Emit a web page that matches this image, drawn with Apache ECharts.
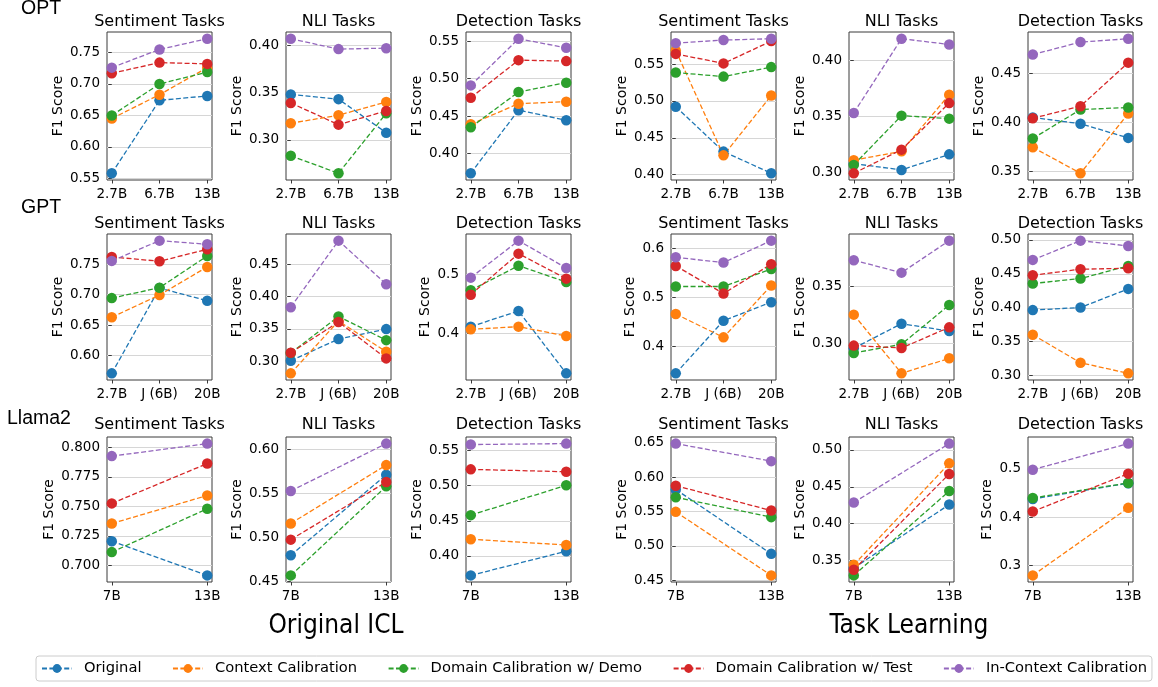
<!DOCTYPE html>
<html><head><meta charset="utf-8">
<script src="https://cdn.jsdelivr.net/npm/echarts@6/dist/echarts.min.js"></script>
<style>html,body{margin:0;padding:0;background:#fff}#c{width:1158px;height:687px}</style>
</head><body><div id="c"></div>
<script>
// ---------------- data ----------------
const methods = ['Original', 'Context Calibration', 'Domain Calibration w/ Demo', 'Domain Calibration w/ Test', 'In-Context Calibration'];
const colors = ['#1f77b4', '#ff7f0e', '#2ca02c', '#d62728', '#9467bd'];
const catsOPT = ['2.7B', '6.7B', '13B'];
const catsGPT = ['2.7B', 'J (6B)', '20B'];
const catsLlama = ['7B', '13B'];
const taskTitles = ['Sentiment Tasks', 'NLI Tasks', 'Detection Tasks'];

// each: rows = methods (Original, Context, Demo, Test, In-Context)
const optIclSentiment = [[0.558, 0.674, 0.681], [0.645, 0.683, 0.726], [0.650, 0.700, 0.719], [0.717, 0.734, 0.732], [0.726, 0.755, 0.772]];
const optIclNli = [[0.348, 0.343, 0.3075], [0.3175, 0.326, 0.340], [0.283, 0.2645, 0.328], [0.339, 0.316, 0.3305], [0.407, 0.396, 0.397]];
const optIclDetection = [[0.374, 0.458, 0.4446], [0.4393, 0.4666, 0.4693], [0.4352, 0.4822, 0.4946], [0.4746, 0.5246, 0.5233], [0.491, 0.5531, 0.541]];
const optTlSentiment = [[0.4922, 0.4312, 0.4018], [0.5683, 0.4261, 0.5073], [0.5385, 0.533, 0.5459], [0.5638, 0.5509, 0.5812], [0.5784, 0.5826, 0.5844]];
const optTlNli = [[0.308, 0.3024, 0.3163], [0.3111, 0.319, 0.3696], [0.3069, 0.3509, 0.3482], [0.2994, 0.3205, 0.3621], [0.3533, 0.4196, 0.4145]];
const optTlDetection = [[0.405, 0.3986, 0.3842], [0.3747, 0.3483, 0.4089], [0.3836, 0.413, 0.4151], [0.4041, 0.4164, 0.4606], [0.4688, 0.4815, 0.4849]];

const gptIclSentiment = [[0.5711, 0.7109, 0.6902], [0.6631, 0.6995, 0.7456], [0.6945, 0.7115, 0.7636], [0.762, 0.7549, 0.7745], [0.7555, 0.7887, 0.7827]];
const gptIclNli = [[0.3005, 0.334, 0.3495], [0.2809, 0.362, 0.3145], [0.3125, 0.3691, 0.3324], [0.3129, 0.3605, 0.3041], [0.3834, 0.4867, 0.4191]];
const gptIclDetection = [[0.4114, 0.4381, 0.3318], [0.4068, 0.4114, 0.3955], [0.4733, 0.5153, 0.4875], [0.4659, 0.5358, 0.4932], [0.4949, 0.558, 0.5114]];
const gptTlSentiment = [[0.3458, 0.4529, 0.4905], [0.4664, 0.419, 0.5244], [0.5224, 0.5224, 0.558], [0.5641, 0.5081, 0.5678], [0.5817, 0.571, 0.6156]];
const gptTlNli = [[0.296, 0.3174, 0.311], [0.3253, 0.2741, 0.2872], [0.2919, 0.2994, 0.3337], [0.2983, 0.2962, 0.3142], [0.3727, 0.3619, 0.3898]];
const gptTlDetection = [[0.3966, 0.4005, 0.4279], [0.3603, 0.3191, 0.3034], [0.4358, 0.4431, 0.4618], [0.448, 0.4569, 0.4583], [0.4706, 0.499, 0.4912]];

const llamaIclSentiment = [[0.7205, 0.6916], [0.7355, 0.7592], [0.7113, 0.748], [0.7525, 0.7862], [0.7925, 0.8031]];
const llamaIclNli = [[0.4797, 0.571], [0.5158, 0.582], [0.4568, 0.5579], [0.4974, 0.5628], [0.5526, 0.6064]];
const llamaIclDetection = [[0.3722, 0.4066], [0.4237, 0.4155], [0.458, 0.5005], [0.5232, 0.5198], [0.5585, 0.5599]];
const llamaTlSentiment = [[0.582, 0.4885], [0.5495, 0.4572], [0.5707, 0.5418], [0.5875, 0.5514], [0.6486, 0.6231]];
const llamaTlNli = [[0.340, 0.4259], [0.3442, 0.4817], [0.3299, 0.4442], [0.3375, 0.4674], [0.4286, 0.5085]];
const llamaTlDetection = [[0.4375, 0.470], [0.2795, 0.4191], [0.4396, 0.4706], [0.4116, 0.4898], [0.498, 0.5519]];

// y tick labels
const optIclSentimentTicks = [0.55, 0.60, 0.65, 0.70, 0.75];
const optIclNliTicks = [0.30, 0.35, 0.40];
const optIclDetectionTicks = [0.40, 0.45, 0.50, 0.55];
const optTlSentimentTicks = [0.40, 0.45, 0.50, 0.55];
const optTlNliTicks = [0.30, 0.35, 0.40];
const optTlDetectionTicks = [0.35, 0.40, 0.45];
const gptIclSentimentTicks = [0.60, 0.65, 0.70, 0.75];
const gptIclNliTicks = [0.30, 0.35, 0.40, 0.45];
const gptIclDetectionTicks = [0.4, 0.5];
const gptTlSentimentTicks = [0.4, 0.5, 0.6];
const gptTlNliTicks = [0.30, 0.35];
const gptTlDetectionTicks = [0.30, 0.35, 0.40, 0.45, 0.50];
const llamaIclSentimentTicks = [0.700, 0.725, 0.750, 0.775, 0.800];
const llamaIclNliTicks = [0.45, 0.50, 0.55, 0.60];
const llamaIclDetectionTicks = [0.40, 0.45, 0.50, 0.55];
const llamaTlSentimentTicks = [0.45, 0.50, 0.55, 0.60, 0.65];
const llamaTlNliTicks = [0.35, 0.40, 0.45, 0.50];
const llamaTlDetectionTicks = [0.3, 0.4, 0.5];

const rowLabels = ['OPT', 'GPT', 'Llama2'];
const groupLabels = ['Original ICL', 'Task Learning'];

// ---------------- panels ----------------
const panels = [
  [catsOPT, optIclSentiment, optIclSentimentTicks, 2],
  [catsOPT, optIclNli, optIclNliTicks, 2],
  [catsOPT, optIclDetection, optIclDetectionTicks, 2],
  [catsOPT, optTlSentiment, optTlSentimentTicks, 2],
  [catsOPT, optTlNli, optTlNliTicks, 2],
  [catsOPT, optTlDetection, optTlDetectionTicks, 2],
  [catsGPT, gptIclSentiment, gptIclSentimentTicks, 2],
  [catsGPT, gptIclNli, gptIclNliTicks, 2],
  [catsGPT, gptIclDetection, gptIclDetectionTicks, 1],
  [catsGPT, gptTlSentiment, gptTlSentimentTicks, 1],
  [catsGPT, gptTlNli, gptTlNliTicks, 2],
  [catsGPT, gptTlDetection, gptTlDetectionTicks, 2],
  [catsLlama, llamaIclSentiment, llamaIclSentimentTicks, 3],
  [catsLlama, llamaIclNli, llamaIclNliTicks, 2],
  [catsLlama, llamaIclDetection, llamaIclDetectionTicks, 2],
  [catsLlama, llamaTlSentiment, llamaTlSentimentTicks, 2],
  [catsLlama, llamaTlNli, llamaTlNliTicks, 2],
  [catsLlama, llamaTlDetection, llamaTlDetectionTicks, 1]
];

// ---------------- layout ----------------
const colLeft = [107, 286, 466, 671, 849, 1028];
const plotW = 105;
const rowTop = [32, 234, 437];
const rowH = [148, 146, 145];
const titleY = [21.5, 223.5, 425];
const FONT = "'DejaVu Sans', sans-serif";
const tickFont = 13.5;

const cv = document.createElement('canvas').getContext('2d');
cv.font = tickFont + "px 'DejaVu Sans'";

const grids = [], xAxes = [], yAxes = [], series = [], graphics = [];
const padMin = v => v.min - 0.05 * (v.max - v.min);
const padMax = v => v.max + 0.05 * (v.max - v.min);

panels.forEach((p, k) => {
  const [cats, data, ticks, dec] = p;
  const r = Math.floor(k / 6), c = k % 6;
  const left = colLeft[c], top = rowTop[r], h = rowH[r];
  grids.push({left: left, top: top, width: plotW, height: h, show: true,
    borderColor: '#3a3a3a', borderWidth: 1, backgroundColor: 'transparent',
    containLabel: false, outerBoundsMode: 'none'});
  const idx = cats.map((_, i) => i);
  xAxes.push({type: 'value', gridIndex: k, min: padMin, max: padMax,
    axisLine: {show: false}, splitLine: {show: false},
    axisTick: {show: true, customValues: idx, length: 3.5, lineStyle: {color: '#3a3a3a', width: 1}},
    axisLabel: {customValues: idx, formatter: v => cats[Math.round(v)], margin: 7, color: '#000',
      fontSize: tickFont, fontFamily: FONT, hideOverlap: false}});
  const labW = Math.max(...ticks.map(t => cv.measureText(t.toFixed(dec)).width));
  yAxes.push({type: 'value', gridIndex: k, min: padMin, max: padMax,
    name: 'F1 Score', nameLocation: 'middle', nameGap: 7 + labW + 5,
    nameTextStyle: {fontSize: 14, color: '#000', fontFamily: FONT},
    axisLine: {show: false},
    splitLine: {show: true, lineStyle: {color: '#d6d6d6', width: 1.2}},
    axisTick: {show: true, customValues: ticks, length: 3.5, lineStyle: {color: '#3a3a3a', width: 1}},
    axisLabel: {customValues: ticks, formatter: v => v.toFixed(dec), margin: 7, color: '#000',
      fontSize: tickFont, fontFamily: FONT, hideOverlap: false}});
  data.forEach((vals, m) => {
    series.push({type: 'line', name: methods[m], xAxisIndex: k, yAxisIndex: k,
      data: vals.map((v, i) => [i, v]),
      symbol: 'circle', symbolSize: 10.5, showSymbol: true, showAllSymbol: true,
      lineStyle: {type: [5, 2.4], width: 1.3, color: colors[m]},
      itemStyle: {color: colors[m], borderWidth: 0},
      emphasis: {disabled: true}, silent: true, animation: false});
  });
  graphics.push({type: 'text', x: left + plotW / 2, y: titleY[r], silent: true,
    style: {text: taskTitles[c % 3], font: "16px 'DejaVu Sans'", fill: '#000',
      align: 'center', verticalAlign: 'middle', textAlign: 'center', textVerticalAlign: 'middle'}});
});

const rowLabelPos = [[21, 8.5], [21, 207.5], [7, 418.5]];
rowLabels.forEach((t, i) => {
  graphics.push({type: 'text', x: rowLabelPos[i][0], y: rowLabelPos[i][1], silent: true,
    style: {text: t, font: "19.5px 'Liberation Sans', sans-serif", fill: '#000',
      align: 'left', verticalAlign: 'middle', textAlign: 'left', textVerticalAlign: 'middle'}});
});
const groupLabelX = [336, 909];
groupLabels.forEach((t, i) => {
  graphics.push({type: 'text', x: groupLabelX[i], y: 626, silent: true,
    style: {text: t, font: "26px 'Liberation Sans Narrow', 'DejaVu Sans Condensed', 'Liberation Sans', sans-serif", fill: '#000',
      align: 'center', verticalAlign: 'middle', textAlign: 'center', textVerticalAlign: 'middle'}});
});

const chart = echarts.init(document.getElementById('c'), null, {renderer: 'canvas'});
chart.setOption({
  backgroundColor: '#fff',
  animation: false,
  grid: grids, xAxis: xAxes, yAxis: yAxes, series: series,
  graphic: graphics,
  legend: {data: methods, left: 36, top: 656, padding: [5, 5], itemWidth: 30, itemHeight: 11, itemGap: 30.5,
    borderColor: '#cccccc', borderWidth: 1, borderRadius: 3, backgroundColor: '#fff',
    selectedMode: false,
    textStyle: {fontFamily: FONT, fontSize: 14.7, color: '#000', padding: [0, 0, 0, 7]}}
});
</script></body></html>
